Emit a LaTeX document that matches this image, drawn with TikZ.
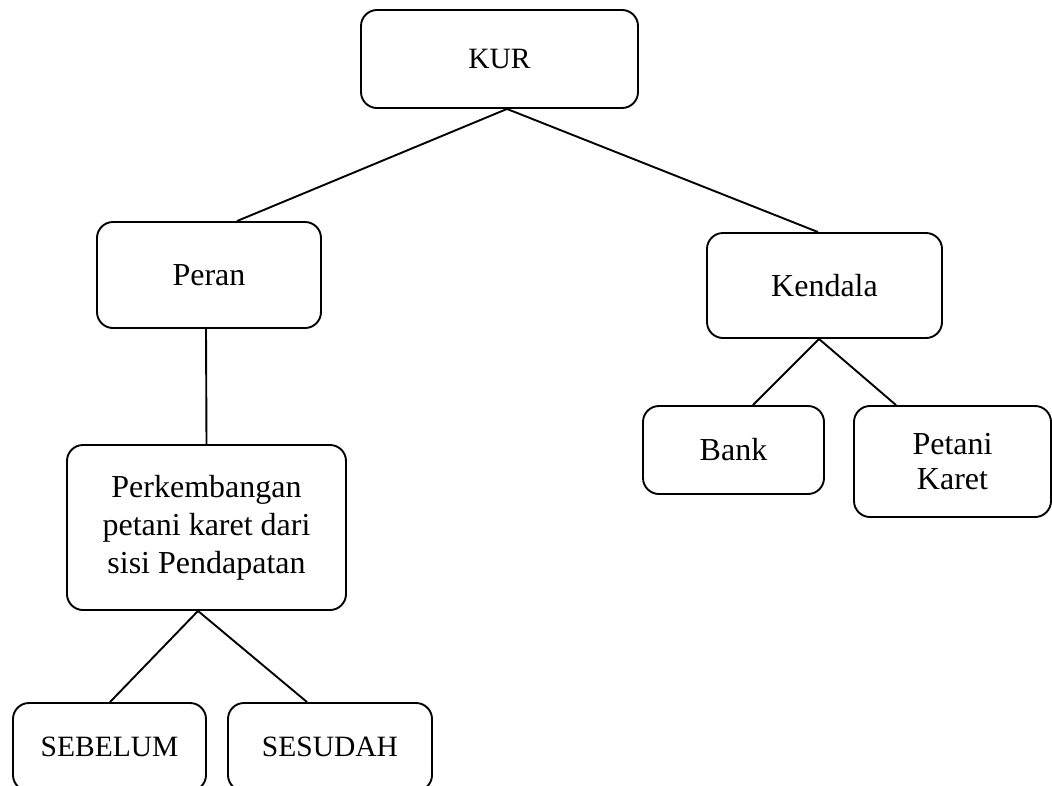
\documentclass[tikz,border=0pt]{standalone}
\usepackage{fontspec}
\setmainfont{Liberation Serif}
\begin{document}
\begin{tikzpicture}[x=1pt,y=-1pt,
  box/.style={draw=black, line width=1.9pt, rounded corners=16pt, inner sep=0pt,
    align=center, font=\fontsize{32}{38}\selectfont},
  capbox/.style={box, font=\fontsize{29.5}{35}\selectfont},
  link/.style={draw=black, line width=1.9pt}]
\useasboundingbox (0,0) rectangle (1052,785);
\clip (0,0) rectangle (1052,785);
\node[capbox, minimum width=277pt, minimum height=98pt] (kur) at (499.5,59) {KUR};
\node[box, minimum width=224pt, minimum height=106pt] (peran) at (209,275) {Peran};
\node[box, minimum width=235pt, minimum height=105pt] (kendala) at (824.5,285.5) {Kendala};
\node[box, minimum width=279pt, minimum height=165pt] (perk) at (206.5,527.5) {Perkembangan\\petani karet dari\\sisi Pendapatan};
\node[box, minimum width=181pt, minimum height=88pt] (bank) at (733.5,450) {Bank};
\node[box, minimum width=197pt, minimum height=111pt, font=\fontsize{32}{35}\selectfont] (petani) at (952.5,461.5) {Petani\\Karet};
\node[capbox, minimum width=193pt, minimum height=88pt] (sebelum) at (109.5,747) {SEBELUM};
\node[capbox, minimum width=204pt, minimum height=88pt] (sesudah) at (330,747) {SESUDAH};
\draw[link] ([xshift=7.5pt]kur.south) -- ([xshift=28pt]peran.north);
\draw[link] ([xshift=7.5pt]kur.south) -- ([xshift=-6.5pt]kendala.north);
\draw[link] ([xshift=-3pt]peran.south) -- (perk.north);
\draw[link] ([xshift=-8.5pt]perk.south) -- ([xshift=0.5pt]sebelum.north);
\draw[link] ([xshift=-8.5pt]perk.south) -- ([xshift=-23pt]sesudah.north);
\draw[link] ([xshift=-5.5pt]kendala.south) -- ([xshift=19.5pt]bank.north);
\draw[link] ([xshift=-5.5pt]kendala.south) -- ([xshift=-56.5pt]petani.north);
\end{tikzpicture}
\end{document}
